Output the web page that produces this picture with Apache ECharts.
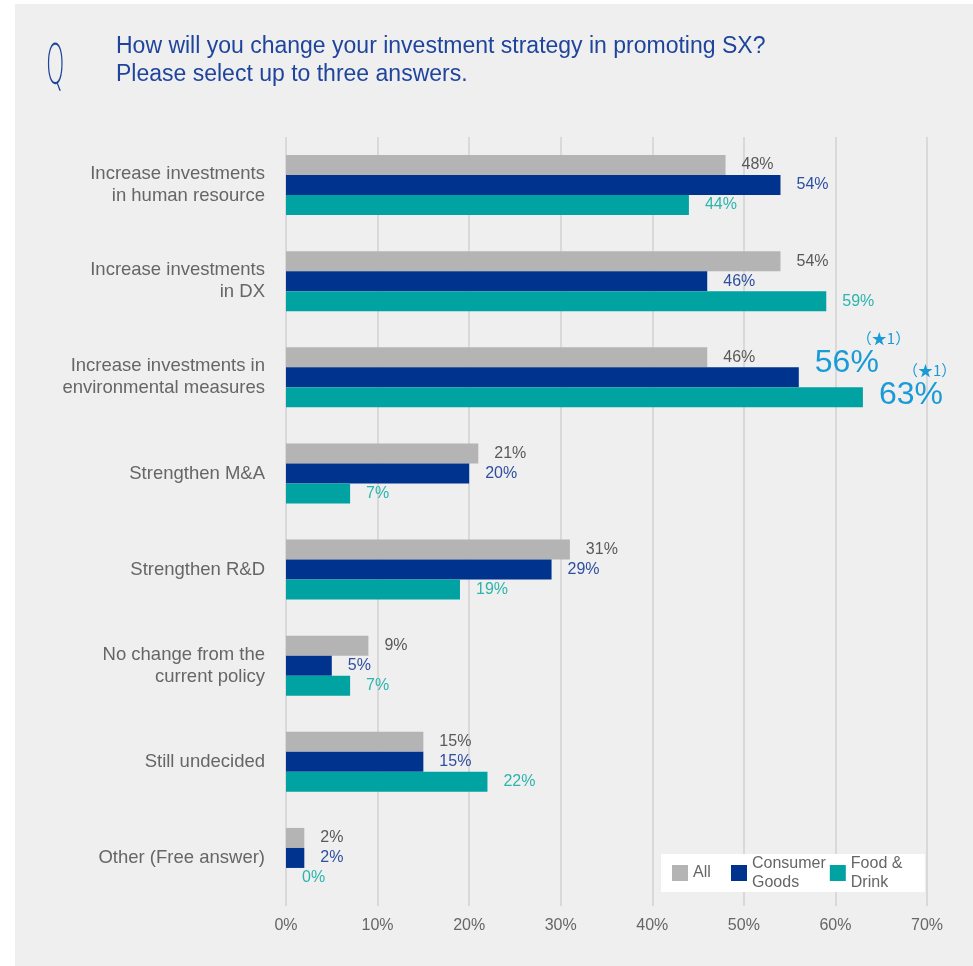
<!DOCTYPE html>
<html>
<head>
<meta charset="utf-8">
<script src="https://cdn.jsdelivr.net/npm/echarts@6/dist/echarts.min.js"></script>
<style>
html,body{margin:0;padding:0;background:#fff;}
#chart{width:973px;height:966px;}
</style>
</head>
<body>
<div id="chart"></div>
<script>
var categories = [
  "Increase investments\nin human resource",
  "Increase investments\nin DX",
  "Increase investments in\nenvironmental measures",
  "Strengthen M&A",
  "Strengthen R&D",
  "No change from the\ncurrent policy",
  "Still undecided",
  "Other (Free answer)"
];
var seriesNames = ["All", "Consumer Goods", "Food & Drink"];
var allValues = [48, 54, 46, 21, 31, 9, 15, 2];
var consumerValues = [54, 46, 56, 20, 29, 5, 15, 2];
var foodValues = [44, 59, 63, 7, 19, 7, 22, 0];
var xTicks = [0, 10, 20, 30, 40, 50, 60, 70];
var titleLines = ["How will you change your investment strategy in promoting SX?", "Please select up to three answers."];
var starNote = "（★1）";

var FONT = "Liberation Sans";
var highlightColor = "#1a9ad6";

function buildData(values, highlightIndex, padLeft, offY) {
  return values.map(function (v, i) {
    if (i !== highlightIndex) return v;
    return {
      value: v,
      label: {
        formatter: "{s|" + starNote + "}\n{n|" + v + "%}",
        offset: [0, offY],
        rich: {
          s: {fontSize: 15, lineHeight: 17, color: highlightColor, padding: [0, 0, 0, padLeft], fontFamily: "Noto Sans CJK JP"},
          n: {fontSize: 32, lineHeight: 32, color: highlightColor, fontFamily: FONT}
        }
      }
    };
  });
}

var chart = echarts.init(document.getElementById("chart"), null, {renderer: "canvas"});
var option = {
  backgroundColor: "#ffffff",
  animation: false,
  textStyle: {fontFamily: FONT},
  graphic: [
    {type: "rect", left: 15, top: 4, shape: {width: 958, height: 962}, style: {fill: "#efefef"}, z: -10, silent: true},
    {type: "text", left: 46, top: 40, scaleX: 0.42, style: {text: "Q", fontSize: 56, fontWeight: 200, fontFamily: "DejaVu Sans", fill: "#1e449c"}, z: 5}
  ],
  title: {
    text: titleLines.join("\n"),
    left: 111,
    top: 28,
    textStyle: {fontSize: 23, fontWeight: "normal", color: "#1e449c", lineHeight: 28, fontFamily: FONT}
  },
  legend: {
    data: [
      {name: "All", textStyle: {width: 34}},
      {name: "Consumer Goods", textStyle: {width: 70}},
      {name: "Food & Drink", textStyle: {width: 52}}
    ],
    left: 661,
    top: 854,
    orient: "horizontal",
    backgroundColor: "#ffffff",
    padding: [0, 22, 0, 11],
    itemWidth: 16,
    itemHeight: 16,
    itemGap: 4,
    icon: "rect",
    formatter: function (name) {
      if (name === "Consumer Goods") return "Consumer\nGoods";
      if (name === "Food & Drink") return "Food &\nDrink";
      return name;
    },
    textStyle: {fontSize: 16, color: "#666666", lineHeight: 19, fontFamily: FONT}
  },
  grid: {left: 286, right: 46, top: 137, bottom: 60, containLabel: false},
  xAxis: {
    type: "value",
    min: xTicks[0],
    max: xTicks[xTicks.length - 1],
    interval: 10,
    axisLine: {show: false},
    axisTick: {show: false},
    splitLine: {show: true, lineStyle: {color: "#d9d9d9", width: 2}},
    axisLabel: {formatter: "{value}%", color: "#666666", fontSize: 16, margin: 12, fontFamily: FONT}
  },
  yAxis: {
    type: "category",
    data: categories,
    inverse: true,
    axisLine: {show: false},
    axisTick: {show: false},
    splitLine: {show: false},
    axisLabel: {color: "#666666", fontSize: 18.5, lineHeight: 22, margin: 21, padding: [5, 0, 0, 0], fontFamily: FONT}
  },
  series: [
    {
      name: seriesNames[0], type: "bar", data: allValues,
      barWidth: 20, barGap: "0%", barCategoryGap: "37.5%",
      itemStyle: {color: "#b4b4b4"},
      label: {show: true, position: "right", distance: 16, formatter: "{c}%", color: "#595959", fontSize: 16, fontFamily: FONT}
    },
    {
      name: seriesNames[1], type: "bar", data: buildData(consumerValues, 2, 42, -23),
      barWidth: 20, barGap: "0%", barCategoryGap: "37.5%",
      itemStyle: {color: "#00338d"},
      label: {show: true, position: "right", distance: 16, formatter: "{c}%", color: "#2d4f9f", fontSize: 16, fontFamily: FONT}
    },
    {
      name: seriesNames[2], type: "bar", data: buildData(foodValues, 2, 24, -11),
      barWidth: 20, barGap: "0%", barCategoryGap: "37.5%",
      itemStyle: {color: "#00a3a1"},
      label: {show: true, position: "right", distance: 16, formatter: "{c}%", color: "#2cb4ad", fontSize: 16, fontFamily: FONT}
    }
  ]
};
chart.setOption(option);
</script>
</body>
</html>
